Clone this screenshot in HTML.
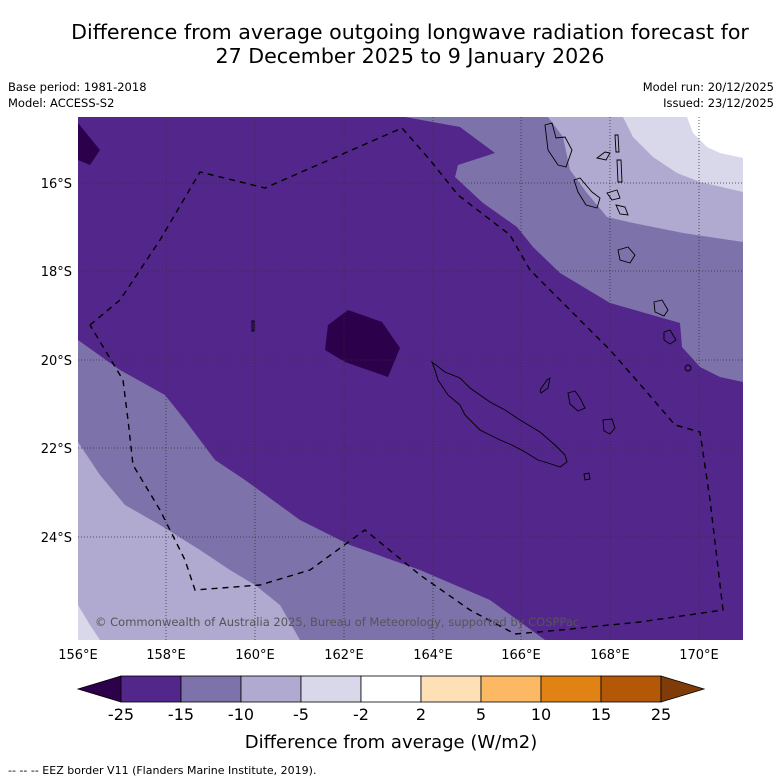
<!DOCTYPE html>
<html><head><meta charset="utf-8"><style>
body{margin:0;background:#fff;}
svg{display:block;font-family:"DejaVu Sans","Liberation Sans",sans-serif;}
</style></head><body>
<svg width="781" height="781" viewBox="0 0 781 781">
<text x="410" y="39" text-anchor="middle" font-size="20.6">Difference from average outgoing longwave radiation forecast for</text>
<text x="410" y="63" text-anchor="middle" font-size="20.6">27 December 2025 to 9 January 2026</text>
<text x="8" y="91" font-size="11.5">Base period: 1981-2018</text>
<text x="8" y="107" font-size="11.5">Model: ACCESS-S2</text>
<text x="774" y="91" font-size="11.5" text-anchor="end">Model run: 20/12/2025</text>
<text x="774" y="107" font-size="11.5" text-anchor="end">Issued: 23/12/2025</text>
<defs><clipPath id="mc"><rect x="78" y="117" width="665" height="523"/></clipPath></defs>
<g clip-path="url(#mc)">
<rect x="78" y="117" width="665" height="523" fill="#52268a"/>
<polygon fill="#2d004b" points="78,123 100,150 90,165 78,160"/>
<polygon fill="#2d004b" points="348,310 382,322 400,348 388,377 345,362 325,350 328,325"/>
<polygon fill="#7e72aa" points="78,340 120,370 165,395 185,420 215,460 245,480 300,520 350,545 420,570 490,600 545,640 78,640"/>
<polygon fill="#b0a9d0" points="78,442 100,475 125,505 160,525 200,550 230,570 255,585 280,605 300,640 78,640"/>
<polygon fill="#d8d8ea" points="78,605 90,625 100,640 78,640"/>
<polygon fill="#7e72aa" points="405,117 743,117 743,382 720,377 700,367 682,347 680,323 610,303 560,273 533,247 517,227 483,203 455,177 458,165 495,153 460,127"/>
<polygon fill="#b0a9d0" points="548,117 743,117 743,242 683,233 633,223 607,217 587,193 570,170 563,137"/>
<polygon fill="#d8d8ea" points="623,117 743,117 743,192 700,182 677,173 653,157 633,137"/>
<polygon fill="#ffffff" points="687,117 743,117 743,158 720,153 707,147 693,133"/>
<g stroke="#333" stroke-width="0.8" stroke-dasharray="1,2">
<line x1="166" y1="117" x2="166" y2="640"/><line x1="255" y1="117" x2="255" y2="640"/><line x1="344" y1="117" x2="344" y2="640"/><line x1="433" y1="117" x2="433" y2="640"/><line x1="521" y1="117" x2="521" y2="640"/><line x1="610" y1="117" x2="610" y2="640"/><line x1="699" y1="117" x2="699" y2="640"/>
<line x1="78" y1="183" x2="743" y2="183"/><line x1="78" y1="271" x2="743" y2="271"/><line x1="78" y1="360" x2="743" y2="360"/><line x1="78" y1="448" x2="743" y2="448"/><line x1="78" y1="537" x2="743" y2="537"/>
</g>
<g fill="none" stroke="#000" stroke-width="0.9">
<polygon points="432,362 445,372 460,378 470,388 490,402 505,410 520,420 540,432 555,445 565,455 567,462 560,467 548,463 538,460 525,452 512,445 500,440 480,430 465,415 460,405 448,395 438,380 435,370"/>
<polygon points="540,390 547,380 550,378 548,388 541,393"/>
<polygon points="568,393 575,391 580,398 585,408 578,411 570,404"/>
<polygon points="603,420 612,419 615,428 610,434 604,431"/>
<polygon points="545,125 552,123 556,138 565,137 572,150 566,167 558,165 548,150"/>
<polygon points="597,158 605,152 610,153 606,160"/>
<polygon points="615,135 618,135 619,152 616,152"/>
<polygon points="617,160 621,160 622,182 618,182"/>
<polygon points="574,180 580,178 592,192 600,198 597,208 586,205 578,192"/>
<polygon points="607,193 617,190 620,198 612,200"/>
<polygon points="616,205 625,207 628,215 620,214"/>
<polygon points="618,250 628,247 635,255 630,263 620,260"/>
<polygon points="654,302 662,300 668,310 664,316 655,312"/>
<polygon points="664,332 670,330 676,340 670,344 664,340"/>
<circle cx="688" cy="368" r="3"/>
<polygon points="584,474 589,473 590,479 585,480"/>
<polygon points="252,321 254,321 254,331 252,331"/>
</g>
<polyline fill="none" stroke="#000" stroke-width="1.4" stroke-dasharray="6,5" points="90,325 120,300 160,240 200,172 265,188 402,128 430,160 458,195 510,235 530,270 575,315 610,350 645,390 675,425 700,432 710,500 723,610 640,622 560,630 515,634 470,610 420,575 365,530 310,570 260,585 195,590 185,560 160,510 133,465 128,420 123,380 90,325"/>
<text x="95" y="626" font-size="11.5" fill="#555">© Commonwealth of Australia 2025, Bureau of Meteorology, supported by COSPPac</text>
</g>
<g font-size="13">
<text x="72" y="188" text-anchor="end">16°S</text><text x="72" y="276" text-anchor="end">18°S</text><text x="72" y="365" text-anchor="end">20°S</text><text x="72" y="453" text-anchor="end">22°S</text><text x="72" y="542" text-anchor="end">24°S</text>
</g>
<g font-size="13" text-anchor="middle">
<text x="78" y="659">156°E</text><text x="166" y="659">158°E</text><text x="255" y="659">160°E</text><text x="344" y="659">162°E</text><text x="433" y="659">164°E</text><text x="521" y="659">166°E</text><text x="610" y="659">168°E</text><text x="699" y="659">170°E</text>
</g>
<g stroke="#000" stroke-width="0.8">
<polygon points="121,676 121,702 78,689" fill="#2d004b"/>
<rect x="121" y="676" width="60" height="26" fill="#52268a"/>
<rect x="181" y="676" width="60" height="26" fill="#7e72aa"/>
<rect x="241" y="676" width="60" height="26" fill="#b0a9d0"/>
<rect x="301" y="676" width="60" height="26" fill="#d8d8ea"/>
<rect x="361" y="676" width="60" height="26" fill="#ffffff"/>
<rect x="421" y="676" width="60" height="26" fill="#fee0b6"/>
<rect x="481" y="676" width="60" height="26" fill="#fdb863"/>
<rect x="541" y="676" width="60" height="26" fill="#e08214"/>
<rect x="601" y="676" width="60" height="26" fill="#b35806"/>
<polygon points="661,676 661,702 704,689" fill="#7f3b08"/>
</g>
<g font-size="16" text-anchor="middle">
<text x="121" y="720">-25</text><text x="181" y="720">-15</text><text x="241" y="720">-10</text><text x="301" y="720">-5</text><text x="361" y="720">-2</text><text x="421" y="720">2</text><text x="481" y="720">5</text><text x="541" y="720">10</text><text x="601" y="720">15</text><text x="661" y="720">25</text>
</g>
<text x="391" y="748" font-size="18" text-anchor="middle">Difference from average (W/m2)</text>
<text x="8" y="774" font-size="11">--  --  -- EEZ border V11 (Flanders Marine Institute, 2019).</text>
</svg>
</body></html>
